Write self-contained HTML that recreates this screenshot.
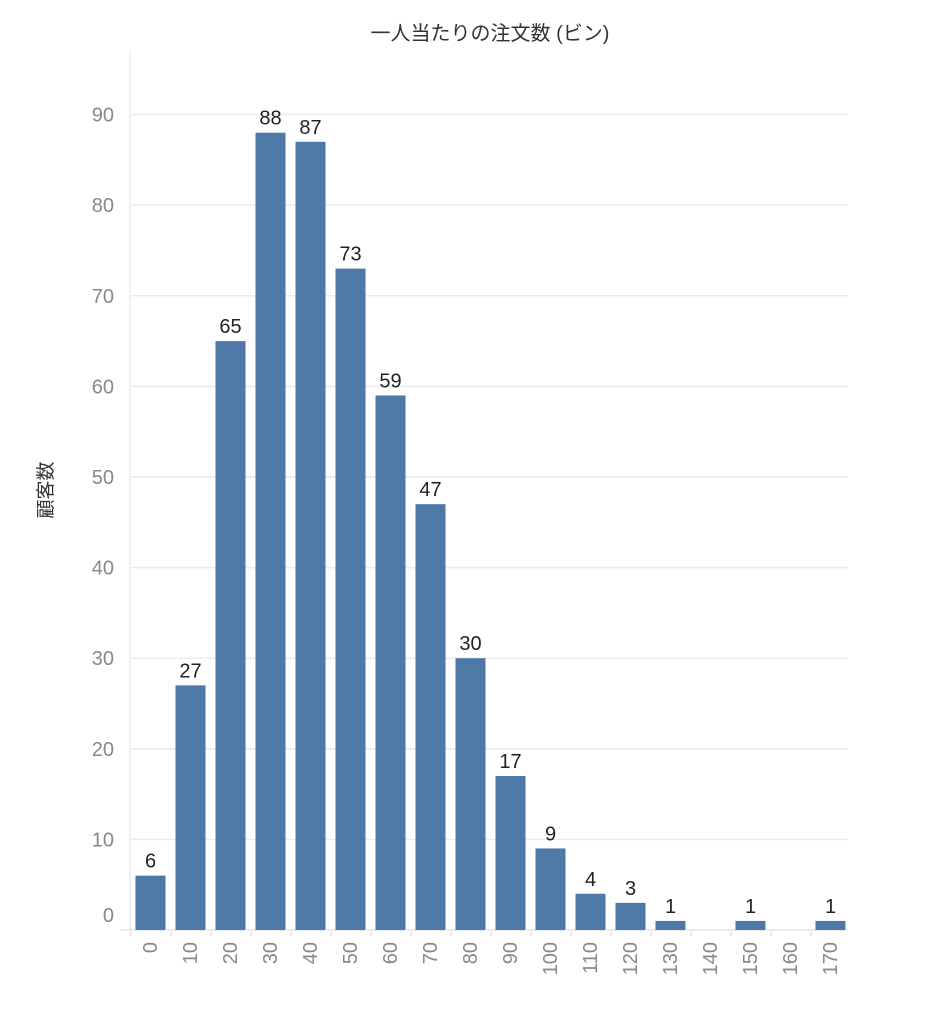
<!DOCTYPE html>
<html><head><meta charset="utf-8"><style>
body{margin:0;background:#fff;}
svg text{font-family:"Liberation Sans","Noto Sans CJK JP",sans-serif;}
</style></head><body>
<svg id="chart" width="928" height="1024" xmlns="http://www.w3.org/2000/svg">
<text x="490" y="40" text-anchor="middle" font-size="20" fill="#333">一人当たりの注文数 (ビン)</text>
<text transform="translate(52,490) rotate(-90)" text-anchor="middle" font-size="19" fill="#333">顧客数</text>
<g id="grid"></g><g id="bars"></g><g id="labels"></g><g id="xaxis"></g><g id="yaxis"></g>
</svg>
<script>
const categories=["0","10","20","30","40","50","60","70","80","90","100","110","120","130","140","150","160","170"];
const values=[6,27,65,88,87,73,59,47,30,17,9,4,3,1,0,1,0,1];
const yTicks=[0,10,20,30,40,50,60,70,80,90];
const NS="http://www.w3.org/2000/svg";
const x0=130,slot=40,y0=930,k=9.06;
const X=i=>x0+i*slot, Y=v=>y0-v*k;
function mk(t,a,p){const e=document.createElementNS(NS,t);for(const n in a)e.setAttribute(n,a[n]);p.appendChild(e);return e;}
const g=document.getElementById('grid'),b=document.getElementById('bars'),l=document.getElementById('labels'),xa=document.getElementById('xaxis'),ya=document.getElementById('yaxis');
yTicks.forEach(t=>{
 if(t>0){const ln=mk('line',{x1:x0,x2:848,y1:Y(t),y2:Y(t),stroke:'#ececec','stroke-width':1.5},g);
 
 }
 const tx=mk('text',{x:114,y:(t===0?Y(t)-8:Y(t)+7),'text-anchor':'end','font-size':20,fill:'#888'},ya);
 tx.textContent=t;
 
 
});
const ax=mk('line',{x1:x0,x2:x0,y1:50,y2:y0,stroke:'#eee','stroke-width':1.5},g);


const bl=mk('line',{x1:120,x2:848,y1:y0,y2:y0,stroke:'#e6e6e6','stroke-width':1.5},g);


categories.forEach((c,i)=>{
 const v=values[i];
 if(v>0){
 const r=mk('rect',{x:X(i)+5.5,y:Y(v),width:30,height:y0-Y(v),fill:'#4e79a7'},b);
 
 
 const t=mk('text',{x:X(i)+20.5,y:Y(v)-8,'text-anchor':'middle','font-size':20,fill:'#222'},l);
 t.textContent=v;
 
 }
 const tk=mk('line',{x1:X(i)+1,x2:X(i)+1,y1:y0,y2:y0+6,stroke:'#e6e6e6','stroke-width':1.5},xa);
 
 
 const xt=mk('text',{transform:`translate(${X(i)+27},942) rotate(-90)`,'text-anchor':'end','font-size':20,fill:'#888'},xa);
 xt.textContent=c;
 
 
});
</script>
</body></html>
